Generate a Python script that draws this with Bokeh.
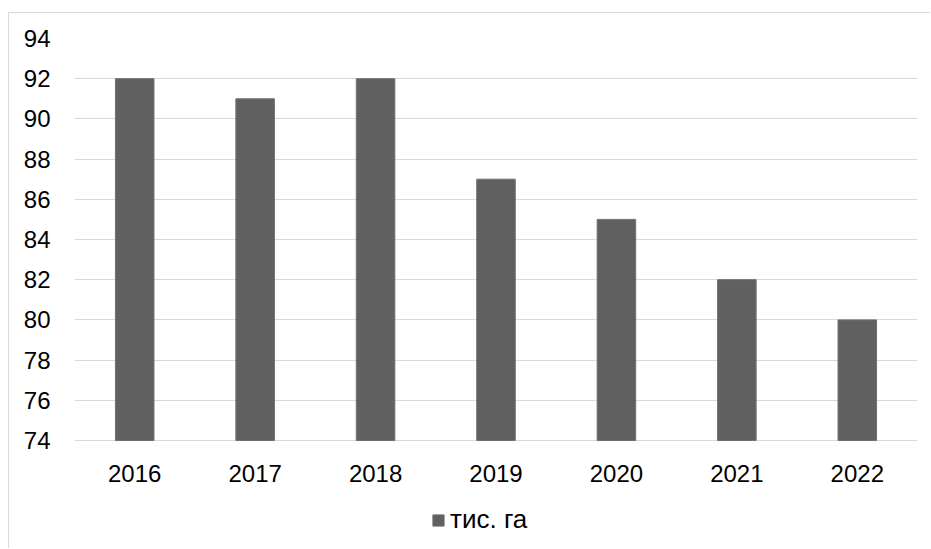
from bokeh.plotting import figure
from bokeh.models import ColumnDataSource, Legend, LegendItem, FixedTicker
from bokeh.core.properties import value
from bokeh.embed import file_html
from bokeh.resources import INLINE

years = ["2016", "2017", "2018", "2019", "2020", "2021", "2022"]
values = [92, 91, 92, 87, 85, 82, 80]
series_name = "тис. га"
y_ticks = [74, 76, 78, 80, 82, 84, 86, 88, 90, 92, 94]

y_min, y_max = 74, 94
# frame extends below the value axis to host year labels and legend
px_per_unit = (440 - 38) / (y_max - y_min)
y_low = y_min - (540 - 440) / px_per_unit
label_y = y_min - (473 - 440) / px_per_unit

src = ColumnDataSource(dict(x=years, top=values, bottom=[y_min] * len(values)))
lab = ColumnDataSource(dict(x=years, y=[label_y] * len(years), t=years))

p = figure(x_range=years, y_range=(y_low, y_max), width=922, height=536,
           output_backend="svg", toolbar_location=None,
           min_border_left=65, min_border_right=14, min_border_top=25, min_border_bottom=9)
p.margin = (12, 0, 0, 8)
p.styles = {"border-top": "1px solid #d9d9d9", "border-left": "1px solid #d9d9d9"}

r = p.vbar(x="x", top="top", bottom="bottom", width=0.32, source=src,
           fill_color="#606060", line_color="#707070", line_width=1)

p.text(x="x", y="y", text="t", source=lab, text_font=value("Liberation Sans"),
       text_font_size="24px", text_color="#000000", text_align="center",
       text_baseline="middle")

p.xaxis.visible = False
p.yaxis.ticker = FixedTicker(ticks=y_ticks)
ax = p.yaxis[0]
ax.axis_line_color = None
ax.major_tick_line_color = None
ax.minor_tick_line_color = None
ax.major_label_text_font = "Liberation Sans"
ax.major_label_text_font_size = "24px"
ax.major_label_text_color = "#000000"
ax.major_label_standoff = 18

p.xgrid.grid_line_color = None
p.ygrid.grid_line_color = "#d9d9d9"
p.ygrid.grid_line_width = 1
p.outline_line_color = None

legend = Legend(items=[LegendItem(label=series_name, renderers=[r])],
                location=(357, 5), orientation="horizontal",
                label_text_font="Liberation Sans", label_text_font_size="26px",
                label_text_color="#000000", glyph_width=14, glyph_height=14,
                label_standoff=5, padding=0, margin=0, spacing=0,
                border_line_color=None, background_fill_alpha=0)
p.add_layout(legend, "center")

open("out.html", "w").write(file_html(p, INLINE))
